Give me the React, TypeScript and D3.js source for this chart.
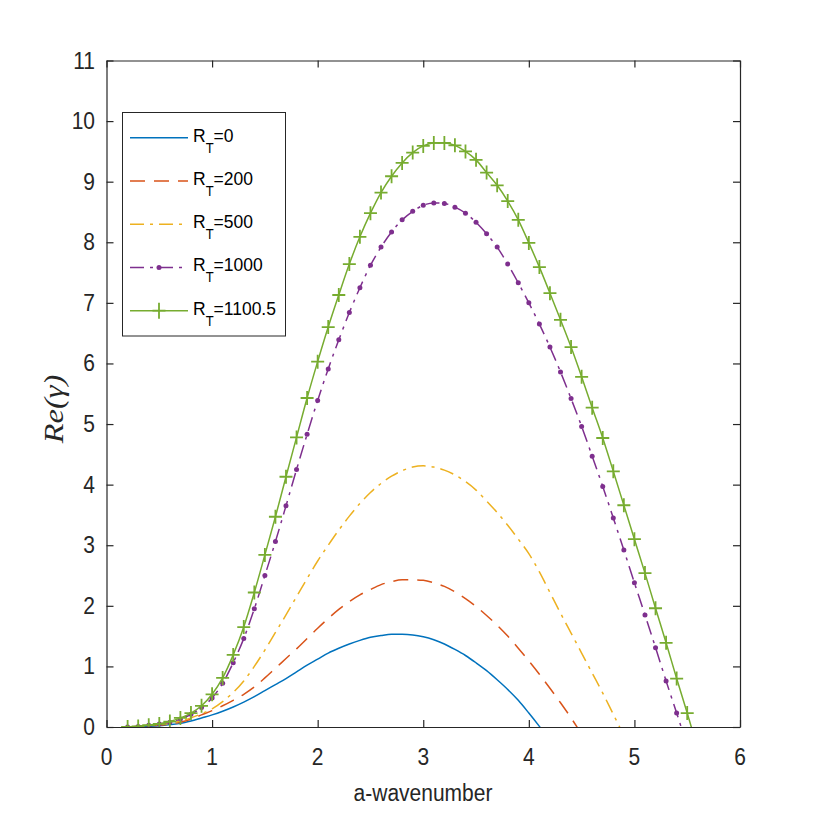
import React, { useRef, useEffect } from 'react';
import * as d3 from 'd3';

// wavenumber grid shared by all curves (each curve uses a prefix of it)
const waveNumbers = [
    0.2, 0.3, 0.4, 0.5, 0.6, 0.7, 0.8, 0.9, 1.0, 1.1, 1.2, 1.3, 1.4, 1.5, 1.6, 1.7, 1.8, 1.9,
    2.0, 2.1, 2.2, 2.3, 2.4, 2.5, 2.6, 2.7, 2.8, 2.9, 3.0, 3.1, 3.2, 3.3, 3.4, 3.5, 3.6, 3.7,
    3.8, 3.9, 4.0, 4.1, 4.2, 4.3, 4.4, 4.5, 4.6, 4.7, 4.8, 4.9, 5.0, 5.1, 5.2, 5.3, 5.4, 5.5, 5.6,
];

// Re(gamma) for each thermal Rayleigh number
const growthRT0 = [
    0, 0.005, 0.01, 0.02, 0.04, 0.06, 0.1, 0.15, 0.2, 0.26, 0.33, 0.41, 0.5, 0.6, 0.7, 0.8,
    0.91, 1.02, 1.12, 1.22, 1.3, 1.37, 1.43, 1.48, 1.51, 1.53, 1.53, 1.52, 1.49, 1.44, 1.37,
    1.28, 1.18, 1.06, 0.93, 0.78, 0.62, 0.44, 0.23, 0.01, -0.22,
];
const growthRT200 = [
    0, 0.01, 0.02, 0.03, 0.05, 0.08, 0.13, 0.2, 0.27, 0.35, 0.44, 0.54, 0.66, 0.81, 0.97, 1.13,
    1.29, 1.46, 1.63, 1.79, 1.94, 2.07, 2.18, 2.27, 2.35, 2.4, 2.43, 2.43, 2.42, 2.38, 2.32,
    2.23, 2.12, 1.99, 1.84, 1.68, 1.5, 1.3, 1.09, 0.87, 0.64, 0.4, 0.15, -0.12,
];
const growthRT500 = [
    0, 0.01, 0.02, 0.04, 0.06, 0.1, 0.15, 0.22, 0.3, 0.42, 0.57, 0.76, 1.0, 1.27, 1.56, 1.85,
    2.15, 2.45, 2.74, 3.0, 3.25, 3.48, 3.69, 3.87, 4.02, 4.14, 4.23, 4.29, 4.31, 4.29, 4.24,
    4.16, 4.05, 3.91, 3.73, 3.54, 3.33, 3.1, 2.86, 2.56, 2.22, 1.88, 1.55, 1.22, 0.89, 0.56,
    0.21, -0.14,
];
const growthRT1000 = [
    0, 0.01, 0.03, 0.05, 0.08, 0.13, 0.21, 0.32, 0.48, 0.72, 1.06, 1.46, 1.95, 2.5, 3.06, 3.65,
    4.25, 4.83, 5.39, 5.91, 6.39, 6.84, 7.25, 7.62, 7.92, 8.17, 8.37, 8.51, 8.61, 8.65, 8.64,
    8.58, 8.48, 8.33, 8.14, 7.92, 7.64, 7.33, 7.0, 6.65, 6.27, 5.86, 5.42, 4.96, 4.47, 3.97,
    3.45, 2.92, 2.38, 1.85, 1.31, 0.76, 0.23, -0.31,
];
const growthRT1100 = [
    0, 0.01, 0.03, 0.05, 0.09, 0.15, 0.23, 0.35, 0.54, 0.81, 1.19, 1.65, 2.22, 2.84, 3.47, 4.13,
    4.78, 5.43, 6.03, 6.6, 7.13, 7.64, 8.09, 8.48, 8.82, 9.09, 9.31, 9.48, 9.59, 9.64, 9.64,
    9.6, 9.5, 9.36, 9.15, 8.94, 8.68, 8.37, 7.99, 7.59, 7.16, 6.72, 6.27, 5.78, 5.27, 4.77,
    4.22, 3.66, 3.1, 2.54, 1.96, 1.39, 0.8, 0.23, -0.36,
];

const rtLabels = ['0', '200', '500', '1000', '1100.5'];
const xTicks = [0, 1, 2, 3, 4, 5, 6];
const yTicks = [0, 1, 2, 3, 4, 5, 6, 7, 8, 9, 10, 11];

const series = [
    { values: growthRT0, color: '#0072BD', dash: null, marker: null },
    { values: growthRT200, color: '#D95319', dash: '15,9', marker: null },
    { values: growthRT500, color: '#EDB120', dash: '14,6,3,6', marker: null },
    { values: growthRT1000, color: '#7E2F8E', dash: '14,6,3,6', marker: 'dot' },
    { values: growthRT1100, color: '#77AC30', dash: null, marker: 'plus' },
];

const App: React.FC = () => {
    const svgRef = useRef<SVGSVGElement | null>(null);

    useEffect(() => {
        if (!svgRef.current) return;
        const svg = d3.select(svgRef.current);
        svg.selectAll('*').remove();

        const left = 106.5, right = 740, top = 60.5, bottom = 727;
        const axisColor = '#262626';
        const sans = '"Liberation Sans", Arial, sans-serif';

        const x = d3.scaleLinear().domain([0, 6]).range([left, right]);
        const y = d3.scaleLinear().domain([0, 11]).range([bottom, top]);

        svg.append('rect').attr('width', 817).attr('height', 817).attr('fill', '#ffffff');

        svg.append('clipPath').attr('id', 'plot-clip')
            .append('rect').attr('x', left).attr('y', top)
            .attr('width', right - left).attr('height', bottom - top);

        // stretched text, like the exported figure
        const label = (g: any, px: number, py: number, str: string, size: number, anchor: string, sy = 1.1) =>
            g.append('text')
                .attr('transform', `translate(${px},${py}) scale(1,${sy})`)
                .attr('text-anchor', anchor)
                .style('font-family', sans)
                .style('font-size', `${size}px`)
                .style('fill', axisColor)
                .text(str);

        // Curves
        const plot = svg.append('g').attr('clip-path', 'url(#plot-clip)');
        const line = d3.line<[number, number]>()
            .x(d => x(d[0])).y(d => y(d[1]))
            .curve(d3.curveMonotoneX);

        series.forEach(s => {
            const pts = s.values.map((v, i) => [waveNumbers[i], v] as [number, number]);
            plot.append('path')
                .attr('d', line(pts))
                .attr('fill', 'none')
                .attr('stroke', s.color)
                .attr('stroke-width', 1.5)
                .attr('stroke-dasharray', s.dash);

            const shown = pts.filter(d => d[1] >= 0);
            if (s.marker === 'dot') {
                plot.selectAll(null).data(shown).join('circle')
                    .attr('cx', d => x(d[0])).attr('cy', d => y(d[1]))
                    .attr('r', 2.5).attr('fill', s.color);
            }
            if (s.marker === 'plus') {
                plot.selectAll(null).data(shown).join('path')
                    .attr('d', 'M-6.5,0H6.5M0,-7V7')
                    .attr('transform', d => `translate(${x(d[0])},${y(d[1])})`)
                    .attr('stroke', s.color).attr('stroke-width', 1.8).attr('fill', 'none');
            }
        });

        // Axes (ticks inside on all four sides)
        const axes = svg.append('g');
        const styleAxis = (g: any) => {
            g.selectAll('path, line').attr('stroke', axisColor).attr('stroke-width', 1.2);
            g.selectAll('text').remove();
        };
        axes.append('g').attr('transform', `translate(0,${bottom})`)
            .call(d3.axisBottom(x).tickValues(xTicks).tickSizeInner(-7).tickSizeOuter(0)).call(styleAxis);
        axes.append('g').attr('transform', `translate(0,${top})`)
            .call(d3.axisTop(x).tickValues(xTicks).tickSizeInner(-7).tickSizeOuter(0)).call(styleAxis);
        axes.append('g').attr('transform', `translate(${left},0)`)
            .call(d3.axisLeft(y).tickValues(yTicks).tickSizeInner(-7).tickSizeOuter(0)).call(styleAxis);
        axes.append('g').attr('transform', `translate(${right},0)`)
            .call(d3.axisRight(y).tickValues(yTicks).tickSizeInner(-7).tickSizeOuter(0)).call(styleAxis);

        xTicks.forEach(t => label(axes, x(t), 765, String(t), 21, 'middle'));
        yTicks.forEach(t => label(axes, 95, y(t) + 8, String(t), 21, 'end'));

        // Axis titles
        label(axes, 423, 801, 'a-wavenumber', 21, 'middle', 1.15);
        axes.append('text')
            .attr('transform', `translate(63,409) scale(1,1.2) rotate(-90)`)
            .attr('text-anchor', 'middle')
            .style('font-family', '"Liberation Serif", "Times New Roman", serif')
            .style('font-style', 'italic')
            .style('font-size', '27px')
            .style('fill', axisColor)
            .text('Re(γ)');

        // Legend
        const legend = svg.append('g');
        legend.append('rect')
            .attr('x', 122.5).attr('y', 112.5).attr('width', 163).attr('height', 223.5)
            .attr('fill', '#ffffff').attr('stroke', axisColor).attr('stroke-width', 1);

        series.forEach((s, i) => {
            const ly = 137.7 + i * 43.25;
            legend.append('line')
                .attr('x1', 130).attr('x2', 188).attr('y1', ly).attr('y2', ly)
                .attr('stroke', s.color).attr('stroke-width', 1.5)
                .attr('stroke-dasharray', s.dash);
            if (s.marker === 'dot') {
                legend.append('circle').attr('cx', 159).attr('cy', ly).attr('r', 2.5).attr('fill', s.color);
            }
            if (s.marker === 'plus') {
                legend.append('path').attr('d', 'M-6.5,0H6.5M0,-8V8')
                    .attr('transform', `translate(159,${ly})`)
                    .attr('stroke', s.color).attr('stroke-width', 1.8);
            }
            const txt = legend.append('text')
                .attr('transform', `translate(193,${ly + 4}) scale(1,1.1)`)
                .style('font-family', sans)
                .style('font-size', '17.5px')
                .style('fill', '#000000');
            txt.append('tspan').text('R');
            txt.append('tspan').attr('dy', 10).style('font-size', '13px').text('T');
            txt.append('tspan').attr('dy', -10).text(`=${rtLabels[i]}`);
        });
    }, []);

    return (
        <svg ref={svgRef} width={817} height={817}
            style={{ position: 'absolute', left: 0, top: 0, display: 'block' }} />
    );
};

export default App;
